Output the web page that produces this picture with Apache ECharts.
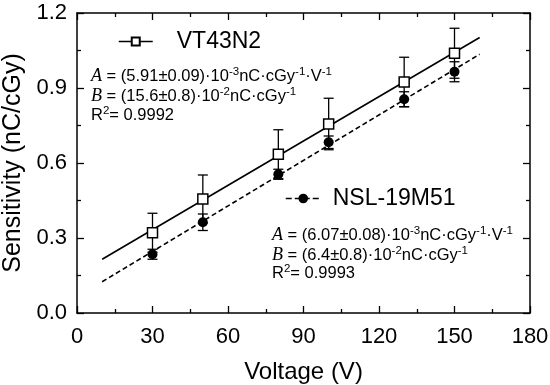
<!DOCTYPE html>
<html>
<head>
<meta charset="utf-8">
<script src="https://cdn.jsdelivr.net/npm/echarts@6/dist/echarts.min.js"></script>
<style>html,body{margin:0;padding:0;background:#fff}#c{width:550px;height:385px}</style>
</head>
<body>
<div id="c"></div>
<script>
// ---- data ----
const voltage = [30, 50, 80, 100, 130, 150];
const vtName = 'VT43N2';
const vtSens = [0.321, 0.456, 0.635, 0.756, 0.924, 1.039];
const vtErr = [0.078, 0.096, 0.098, 0.103, 0.099, 0.100];
const nslName = 'NSL-19M51';
const nslSens = [0.235, 0.363, 0.555, 0.683, 0.855, 0.965];
const nslErr = [0.020, 0.033, 0.020, 0.025, 0.030, 0.040];
// linear-fit line end points
const fitX = [10, 160];
const vtFit = [0.215, 1.102];
const nslFit = [0.125, 1.035];
const xTicks = [0, 30, 60, 90, 120, 150, 180];
const yTicks = [0.0, 0.3, 0.6, 0.9, 1.2];
const vtText = ['{i|A} = (5.91±0.09)·10{s|-3}nC·cGy{s|-1}·V{s|-1}', '{i|B} = (15.6±0.8)·10{s|-2}nC·cGy{s|-1}', 'R{s|2}= 0.9992'];
const nslText = ['{i|A} = (6.07±0.08)·10{s|-3}nC·cGy{s|-1}·V{s|-1}', '{i|B} = (6.4±0.8)·10{s|-2}nC·cGy{s|-1}', 'R{s|2}= 0.9993'];

const FONT = 'Liberation Sans, Arial, sans-serif';
const zip = (a, b) => a.map((v, i) => [v, b[i]]);
const zip3 = (a, b, c) => a.map((v, i) => [v, b[i], c[i]]);

function errRender(params, api) {
  const x = api.value(0), y = api.value(1), e = api.value(2);
  const t = api.coord([x, y + e]);
  const b = api.coord([x, y - e]);
  const hw = 5;
  const st = { stroke: '#000', lineWidth: 1.3 };
  return {
    type: 'group',
    children: [
      { type: 'line', shape: { x1: t[0], y1: t[1], x2: b[0], y2: b[1] }, style: st },
      { type: 'line', shape: { x1: t[0] - hw, y1: t[1], x2: t[0] + hw, y2: t[1] }, style: st },
      { type: 'line', shape: { x1: b[0] - hw, y1: b[1], x2: b[0] + hw, y2: b[1] }, style: st }
    ]
  };
}

const rich = {
  i: { fontFamily: 'Liberation Serif, Times New Roman, serif', fontStyle: 'italic', fontSize: 18, lineHeight: 20 },
  s: { fontSize: 11.5, fontFamily: FONT, verticalAlign: 'top', lineHeight: 20 }
};
function textEl(str, x, y) {
  return {
    type: 'text', x: x, y: y, z: 50,
    style: { text: str, rich: rich, fontSize: 16.5, fontFamily: FONT, fill: '#000', verticalAlign: 'middle', align: 'left' }
  };
}

const axisCommon = {
  axisLine: { show: true, onZero: false, lineStyle: { color: '#000', width: 1.5 } },
  axisTick: { show: true, inside: true, length: 7, lineStyle: { color: '#000', width: 1.3 } },
  minorTick: { show: true, splitNumber: 2, length: 4, lineStyle: { color: '#000', width: 1.3 } },
  splitLine: { show: false }
};

const chart = echarts.init(document.getElementById('c'), null, { renderer: 'canvas' });
chart.setOption({
  backgroundColor: '#fff',
  animation: false,
  grid: { left: 77, right: 20, top: 13, bottom: 72, containLabel: false, outerBoundsMode: 'none' },
  xAxis: [
    Object.assign({
      type: 'value', min: xTicks[0], max: xTicks[xTicks.length - 1], interval: 30, position: 'bottom',
      name: 'Voltage (V)', nameLocation: 'middle', nameGap: 47,
      nameTextStyle: { fontSize: 24, fontFamily: FONT, color: '#000' },
      axisLabel: { fontSize: 22, fontFamily: FONT, color: '#000', margin: 13 }
    }, axisCommon),
    Object.assign({
      type: 'value', min: xTicks[0], max: xTicks[xTicks.length - 1], interval: 30, position: 'top',
      axisLabel: { show: false }
    }, axisCommon)
  ],
  yAxis: [
    Object.assign({
      type: 'value', min: yTicks[0], max: yTicks[yTicks.length - 1], interval: 0.3, position: 'left',
      name: 'Sensitivity (nC/cGy)', nameLocation: 'middle', nameGap: 45,
      nameTextStyle: { fontSize: 25, fontFamily: FONT, color: '#000' },
      axisLabel: { fontSize: 22, fontFamily: FONT, color: '#000', margin: 10, formatter: v => v.toFixed(1) }
    }, axisCommon),
    Object.assign({
      type: 'value', min: yTicks[0], max: yTicks[yTicks.length - 1], interval: 0.3, position: 'right',
      axisLabel: { show: false }
    }, axisCommon)
  ],
  legend: [
    {
      data: [vtName], left: 118, top: 30, padding: 0, selectedMode: false,
      itemWidth: 34, itemHeight: 10,
      textStyle: { fontSize: 23, fontFamily: FONT, color: '#000', padding: [0, 0, 0, 19] },
      lineStyle: { color: '#000', width: 1.5, type: 'solid', opacity: 1 }
    },
    {
      data: [nslName], left: 285, top: 187, padding: 0, selectedMode: false,
      itemWidth: 35, itemHeight: 12,
      textStyle: { fontSize: 23, fontFamily: FONT, color: '#000', padding: [0, 0, 0, 7] },
      lineStyle: { color: '#000', width: 1.5, type: 'dashed', opacity: 1 }
    }
  ],
  series: [
    {
      name: 'vtFit', type: 'line', data: zip(fitX, vtFit), symbol: 'none', silent: true,
      lineStyle: { color: '#000', width: 1.6, type: 'solid' }, z: 2
    },
    {
      name: 'nslFit', type: 'line', data: zip(fitX, nslFit), symbol: 'none', silent: true,
      lineStyle: { color: '#000', width: 1.6, type: [5, 3] }, z: 2
    },
    {
      name: 'vtErr', type: 'custom', data: zip3(voltage, vtSens, vtErr), renderItem: errRender,
      encode: { x: 0, y: 1 }, z: 3, silent: true
    },
    {
      name: 'nslErr', type: 'custom', data: zip3(voltage, nslSens, nslErr), renderItem: errRender,
      encode: { x: 0, y: 1 }, z: 3, silent: true
    },
    {
      name: nslName, type: 'line', data: zip(voltage, nslSens), symbol: 'circle', symbolSize: 10,
      itemStyle: { color: '#000', borderColor: '#000', borderWidth: 0 },
      lineStyle: { opacity: 0, width: 0 }, z: 5
    },
    {
      name: vtName, type: 'line', data: zip(voltage, vtSens), symbol: 'rect', symbolSize: 10,
      itemStyle: { color: '#fff', borderColor: '#000', borderWidth: 1.5 },
      lineStyle: { opacity: 0, width: 0 }, z: 6
    }
  ],
  graphic: [
    textEl(vtText[0], 91, 76), textEl(vtText[1], 91, 96), textEl(vtText[2], 91, 115),
    textEl(nslText[0], 272, 235), textEl(nslText[1], 272, 255), textEl(nslText[2], 272, 273)
  ]
});
</script>
</body>
</html>
